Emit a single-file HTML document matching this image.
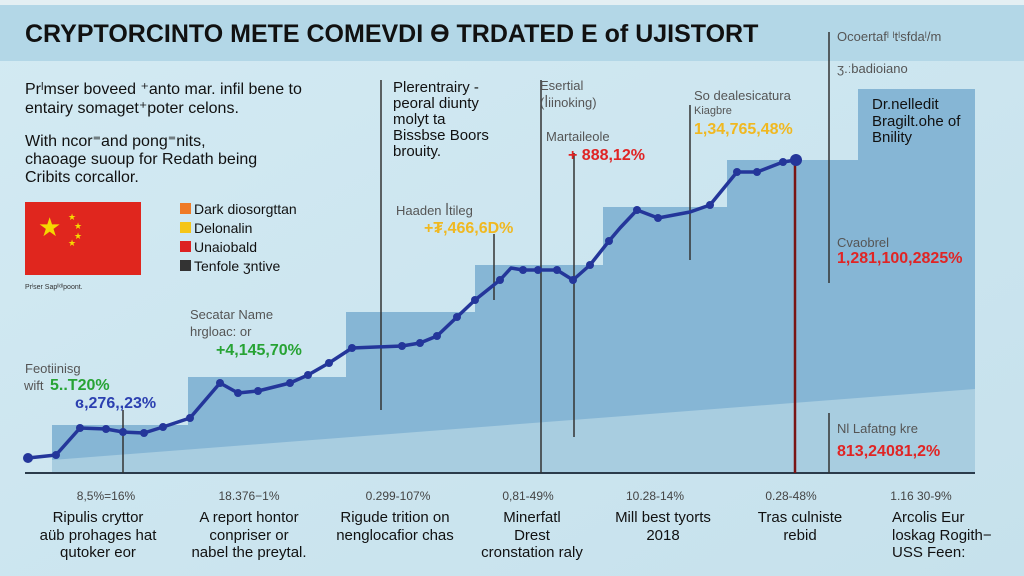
<!DOCTYPE html>
<html><head><meta charset="utf-8"><style>
html,body{margin:0;padding:0;width:1024px;height:576px;overflow:hidden;background:#cde5ef}
svg{display:block}
text{font-family:"Liberation Sans",sans-serif}
</style></head><body>
<svg width="1024" height="576" viewBox="0 0 1024 576" xmlns="http://www.w3.org/2000/svg">
<defs>
<linearGradient id="bg" x1="0" y1="0" x2="1" y2="1">
<stop offset="0" stop-color="#d3eaf3"/><stop offset="1" stop-color="#c6e1ec"/>
</linearGradient>
</defs>
<rect width="1024" height="576" fill="url(#bg)"/>
<rect x="0" y="0" width="1024" height="5" fill="#e4eff3"/>
<rect x="0" y="5" width="1024" height="56" fill="#b3d7e7"/>
<text x="25" y="42" font-size="25" font-weight="bold" fill="#111">CRYPTORCINTO METE COMEVDI Ɵ TRDATED E of UJISTORT</text>

<path d="M52 473 V425 H188 V377 H346 V312 H475 V265 H603 V207 H727 V160 H858 V89 H975 V473 Z" fill="#86b6d5"/>
<path d="M52 473 V460 L975 389 V473 Z" fill="#a8cde0"/>
<line x1="25" y1="473" x2="975" y2="473" stroke="#2b3b4b" stroke-width="2"/>

<g stroke="#333" stroke-width="1.5">
<line x1="123" y1="410" x2="123" y2="473"/>
<line x1="381" y1="80" x2="381" y2="410"/>
<line x1="494" y1="234" x2="494" y2="300"/>
<line x1="541" y1="80" x2="541" y2="473"/>
<line x1="574" y1="153" x2="574" y2="437"/>
<line x1="690" y1="105" x2="690" y2="260"/>
<line x1="829" y1="32" x2="829" y2="283"/>
<line x1="829" y1="413" x2="829" y2="473"/>
</g>
<line x1="795" y1="160" x2="795" y2="473" stroke="#7a1414" stroke-width="2.5"/>

<polyline fill="none" stroke="#24369a" stroke-width="3.5" stroke-linejoin="round" points="28,458 56,455 80,428 106,429 123,432 144,433 163,427 190,418 220,383 238,393 258,391 290,383 308,375 329,363 352,348 402,346 420,343 437,336 457,317 475,300 490,288 500,280 511,268 523,270 538,270 557,270 573,280 590,265 609,241 620,228 637,210 658,218 690,212 710,205 737,172 757,172 783,162 796,160"/>
<g fill="#24369a">
<circle cx="28" cy="458" r="5"/><circle cx="56" cy="455" r="4"/><circle cx="80" cy="428" r="4"/><circle cx="106" cy="429" r="4"/><circle cx="123" cy="432" r="4"/><circle cx="144" cy="433" r="4"/><circle cx="163" cy="427" r="4"/><circle cx="190" cy="418" r="4"/><circle cx="220" cy="383" r="4"/><circle cx="238" cy="393" r="4"/><circle cx="258" cy="391" r="4"/><circle cx="290" cy="383" r="4"/><circle cx="308" cy="375" r="4"/><circle cx="329" cy="363" r="4"/><circle cx="352" cy="348" r="4"/><circle cx="402" cy="346" r="4"/><circle cx="420" cy="343" r="4"/><circle cx="437" cy="336" r="4"/><circle cx="457" cy="317" r="4"/><circle cx="475" cy="300" r="4"/><circle cx="500" cy="280" r="4"/><circle cx="523" cy="270" r="4"/><circle cx="538" cy="270" r="4"/><circle cx="557" cy="270" r="4"/><circle cx="573" cy="280" r="4"/><circle cx="590" cy="265" r="4"/><circle cx="609" cy="241" r="4"/><circle cx="637" cy="210" r="4"/><circle cx="658" cy="218" r="4"/><circle cx="710" cy="205" r="4"/><circle cx="737" cy="172" r="4"/><circle cx="757" cy="172" r="4"/><circle cx="783" cy="162" r="4"/><circle cx="796" cy="160" r="6"/>
</g>

<g font-size="16" fill="#111">
<text x="25" y="94">Prˡmser boveed ⁺anto mar. infil bene to</text>
<text x="25" y="113">entairy somaget⁺poter celons.</text>
<text x="25" y="146">With ncor⁼and pong⁼nits,</text>
<text x="25" y="164">chaoage suoup for Redath being</text>
<text x="25" y="182">Cribits corcallor.</text>
</g>
<rect x="25" y="202" width="116" height="73" fill="#e0261e"/>
<text x="38" y="236" font-size="26" fill="#f5d800">★</text>
<g font-size="9" fill="#f5d800"><text x="68" y="220">★</text><text x="74" y="229">★</text><text x="74" y="239">★</text><text x="68" y="246">★</text></g>
<text x="25" y="289" font-size="7" fill="#333">Prˡser Sapˡˡᵈˡpoont.</text>
<g font-size="14" fill="#111">
<rect x="180" y="203" width="11" height="11" fill="#ef7a26"/><text x="194" y="214">Dark diosorgttan</text>
<rect x="180" y="222" width="11" height="11" fill="#f5c518"/><text x="194" y="233">Delonalin</text>
<rect x="180" y="241" width="11" height="11" fill="#dd2222"/><text x="194" y="252">Unaiobald</text>
<rect x="180" y="260" width="11" height="11" fill="#333"/><text x="194" y="271">Tenfole ʒntive</text>
</g>

<g font-size="13" fill="#555">
<text x="25" y="373">Feotiinisg</text>
<text x="24" y="390">wift</text>
<text x="190" y="319">Secatar Name</text>
<text x="190" y="336">hrgloac: or</text>
<text x="396" y="215">Haaden ꟾtileg</text>
<text x="540" y="90">Esertial</text>
<text x="540" y="107">(ꟾiinoking)</text>
<text x="546" y="141">Martaileole</text>
<text x="694" y="100">So dealesicatura</text>
<text x="694" y="114" font-size="11">Kiagbre</text>
<text x="837" y="41">Ocoertafˡ ˡtˡsfdaˡ/m</text>
<text x="837" y="73">ʒ.ːbadioiano</text>
<text x="837" y="247">Cvaobrel</text>
<text x="837" y="433">Nl Lafatng kre</text>
</g>
<g font-size="15" fill="#111">
<text x="393" y="92">Plerentrairy -</text>
<text x="393" y="108">peoral diunty</text>
<text x="393" y="124">molyt ta</text>
<text x="393" y="140">Bissbse Boors</text>
<text x="393" y="156">brouity.</text>
<text x="872" y="109">Dr.nelledit</text>
<text x="872" y="126">Bragilt.ohe of</text>
<text x="872" y="142">Bnility</text>
</g>
<g font-size="16" font-weight="bold">
<text x="50" y="390" fill="#27a334">5..T20%</text>
<text x="75" y="408" fill="#2b3fb0">ɞ,276,,23%</text>
<text x="216" y="355" fill="#27a334">+4,145,70%</text>
<text x="424" y="233" fill="#f0b820">+₮,466,6D%</text>
<text x="568" y="160" fill="#e02424">+ 888,12%</text>
<text x="694" y="134" fill="#f0b820">1,34,765,48%</text>
<text x="837" y="263" fill="#e02424">1,281,100,2825%</text>
<text x="837" y="456" fill="#e02424">813,24081,2%</text>
</g>

<g font-size="12" fill="#444" text-anchor="middle">
<text x="106" y="500">8,5%=16%</text>
<text x="249" y="500">18.376−1%</text>
<text x="398" y="500">0.299-107%</text>
<text x="528" y="500">0,81-49%</text>
<text x="655" y="500">10.28-14%</text>
<text x="791" y="500">0.28-48%</text>
<text x="921" y="500">1.16 30-9%</text>
</g>
<g font-size="15" fill="#111" text-anchor="middle">
<text x="98" y="522">Ripulis cryttor</text><text x="98" y="540">aüb prohages hat</text><text x="98" y="557">qutoker eor</text>
<text x="249" y="522">A report hontor</text><text x="249" y="540">conpriser or</text><text x="249" y="557">nabel the preytal.</text>
<text x="395" y="522">Rigude trition on</text><text x="395" y="540">nenglocafior chas</text>
<text x="532" y="522">Minerfatl</text><text x="532" y="540">Drest</text><text x="532" y="557">cronstation raly</text>
<text x="663" y="522">Mill best tyorts</text><text x="663" y="540">2018</text>
<text x="800" y="522">Tras culniste</text><text x="800" y="540">rebid</text>
</g>
<g font-size="15" fill="#111">
<text x="892" y="522">Arcolis Eur</text><text x="892" y="540">loskag Rogith−</text><text x="892" y="557">USS Feen:</text>
</g>
</svg>
</body></html>
